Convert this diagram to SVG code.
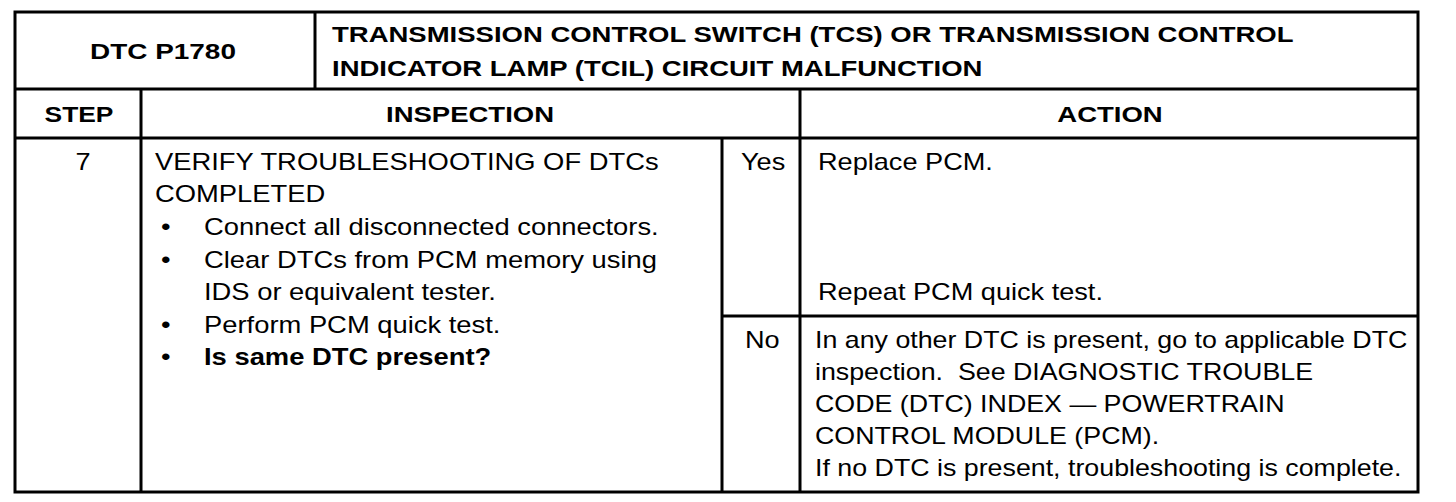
<svg xmlns="http://www.w3.org/2000/svg" width="1456" height="502" viewBox="0 0 1456 502">
<style>
.t{font-family:"Liberation Sans",Arial,sans-serif;font-size:23px;fill:#000;white-space:pre}
.b{font-family:"Liberation Sans",Arial,sans-serif;font-size:22px;font-weight:bold;fill:#000;white-space:pre}
.bb{font-weight:bold}
.ln{stroke:#000;stroke-width:3;fill:none}
</style>
<rect width="1456" height="502" fill="#fff"/>
<g id="grid">
<rect class="ln" x="15" y="12" width="1403" height="480"/>
<line class="ln" x1="15" y1="89" x2="1418" y2="89"/>
<line class="ln" x1="15" y1="138" x2="1418" y2="138"/>
<line class="ln" x1="315" y1="12" x2="315" y2="89"/>
<line class="ln" x1="141" y1="89" x2="141" y2="492"/>
<line class="ln" x1="800" y1="89" x2="800" y2="492"/>
<line class="ln" x1="722" y1="138" x2="722" y2="492"/>
<line class="ln" x1="722" y1="316" x2="1418" y2="316"/>
</g>
<g id="dtc">
<text class="b" text-anchor="middle" transform="translate(163,59) scale(1.27,1)">DTC P1780</text>
</g>
<g id="title">
<text class="b" transform="translate(332,42) scale(1.25,1)">TRANSMISSION CONTROL SWITCH (TCS) OR TRANSMISSION CONTROL</text>
<text class="b" transform="translate(332,76) scale(1.25,1)">INDICATOR LAMP (TCIL) CIRCUIT MALFUNCTION</text>
</g>
<g id="hdr-step"><text class="b" text-anchor="middle" transform="translate(79,122) scale(1.2,1)">STEP</text></g>
<g id="hdr-insp"><text class="b" text-anchor="middle" transform="translate(470,122) scale(1.25,1)">INSPECTION</text></g>
<g id="hdr-action"><text class="b" text-anchor="middle" transform="translate(1110,122) scale(1.25,1)">ACTION</text></g>
<g id="step7"><text class="t" text-anchor="middle" transform="translate(83,170) scale(1.18,1)">7</text></g>
<g id="inspection">
<text class="t" transform="translate(155,170) scale(1.19,1)">VERIFY TROUBLESHOOTING OF DTCs</text>
<text class="t" transform="translate(155,202) scale(1.19,1)">COMPLETED</text>
<text class="t" transform="translate(161,235) scale(1.19,1)">•</text>
<text class="t" transform="translate(204,235) scale(1.19,1)">Connect all disconnected connectors.</text>
<text class="t" transform="translate(161,268) scale(1.19,1)">•</text>
<text class="t" transform="translate(204,268) scale(1.19,1)">Clear DTCs from PCM memory using</text>
<text class="t" transform="translate(204,300) scale(1.19,1)">IDS or equivalent tester.</text>
<text class="t" transform="translate(161,333) scale(1.19,1)">•</text>
<text class="t" transform="translate(204,333) scale(1.19,1)">Perform PCM quick test.</text>
<text class="t" transform="translate(161,365) scale(1.19,1)">•</text>
<text class="t bb" transform="translate(204,365) scale(1.19,1)">Is same DTC present?</text>
</g>
<g id="yes">
<text class="t" transform="translate(741,170) scale(1.18,1)">Yes</text>
<text class="t" transform="translate(818,170) scale(1.18,1)">Replace PCM.</text>
<text class="t" transform="translate(818,300) scale(1.18,1)">Repeat PCM quick test.</text>
</g>
<g id="no">
<text class="t" transform="translate(745,348) scale(1.18,1)">No</text>
<text class="t" transform="translate(815,348) scale(1.165,1)">In any other DTC is present, go to applicable DTC</text>
<text class="t" transform="translate(815,380) scale(1.165,1)">inspection.  See DIAGNOSTIC TROUBLE</text>
<text class="t" transform="translate(815,412) scale(1.165,1)">CODE (DTC) INDEX — POWERTRAIN</text>
<text class="t" transform="translate(815,444) scale(1.165,1)">CONTROL MODULE (PCM).</text>
<text class="t" transform="translate(815,476) scale(1.165,1)">If no DTC is present, troubleshooting is complete.</text>
</g>
</svg>
